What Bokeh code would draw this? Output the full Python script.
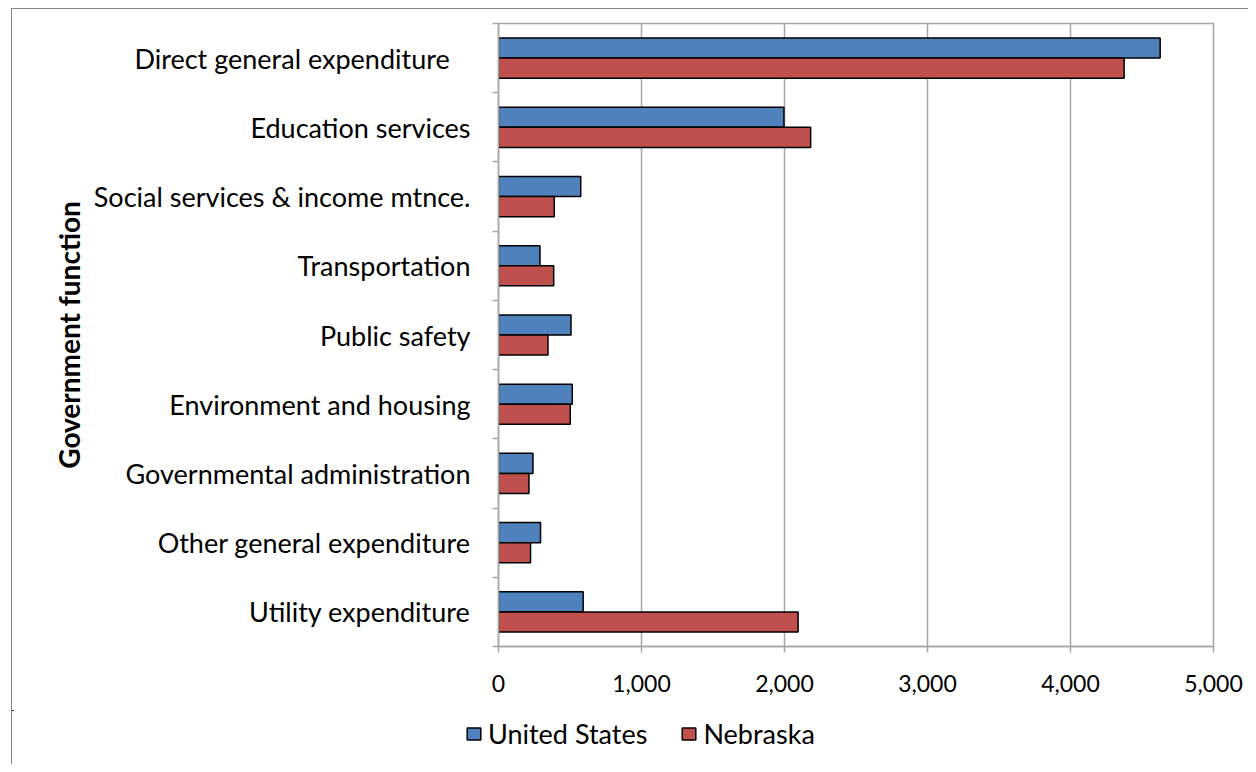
from bokeh.plotting import figure
from bokeh.layouts import column
from bokeh.models import (Range1d, FixedTicker, NumeralTickFormatter, Legend,
                          LegendItem, ColumnDataSource)
from bokeh.embed import file_html
from bokeh.resources import INLINE

categories = [
    "Direct general expenditure\u00a0\u00a0\u00a0",
    "Education services",
    "Social services & income mtnce.",
    "Transportation",
    "Public safety",
    "Environment and housing",
    "Governmental administration",
    "Other general expenditure",
    "Utility expenditure",
]
united_states = [4627, 1996, 575, 290, 507, 516, 241, 294, 592]
nebraska = [4375, 2183, 390, 386, 346, 502, 213, 224, 2095]
series_names = ["United States", "Nebraska"]
series_colors = ["#4F81BD", "#C0504D"]
x_ticks = [0, 1000, 2000, 3000, 4000, 5000]

FONT = "Lato"
GRAY = "#a6a6a6"
BAR_H = 0.29

n = len(categories)
centers = [i + 0.5 for i in range(n)]
src = ColumnDataSource(dict(
    y_us=[c - BAR_H / 2 for c in centers],
    y_ne=[c + BAR_H / 2 for c in centers],
    us=united_states, ne=nebraska,
))

p = figure(width=1236, height=701, output_backend="svg", toolbar_location=None,
           x_range=Range1d(0, 5000), y_range=Range1d(n, 0),
           min_border_left=486, min_border_right=35, min_border_top=14,
           min_border_bottom=64)
p.background_fill_color = "white"
p.border_fill_color = "white"
p.outline_line_color = GRAY
p.outline_line_width = 1.5

p.hbar(y="y_us", right="us", left=0, height=BAR_H, source=src,
       fill_color=series_colors[0], line_color="black", line_width=1.5)
p.hbar(y="y_ne", right="ne", left=0, height=BAR_H, source=src,
       fill_color=series_colors[1], line_color="black", line_width=1.5)

# x axis
xa = p.xaxis[0]
xa.ticker = FixedTicker(ticks=x_ticks)
xa.formatter = NumeralTickFormatter(format="0,0")
xa.axis_line_color = GRAY
xa.axis_line_width = 1.5
xa.major_tick_line_color = GRAY
xa.major_tick_line_width = 1.5
xa.major_tick_out = 6
xa.major_tick_in = 0
xa.minor_tick_line_color = None
xa.major_label_text_font = FONT
xa.major_label_text_font_size = "23px"
xa.major_label_text_color = "black"
xa.major_label_standoff = 22

# y axis
ya = p.yaxis[0]
ya.ticker = FixedTicker(ticks=centers, minor_ticks=list(range(n + 1)))
ya.major_label_overrides = {c: lab for c, lab in zip(centers, categories)}
ya.axis_line_color = GRAY
ya.axis_line_width = 1.5
ya.major_tick_line_color = None
ya.major_tick_out = 0
ya.major_tick_in = 0
ya.minor_tick_line_color = GRAY
ya.minor_tick_line_width = 1.5
ya.minor_tick_out = 6
ya.minor_tick_in = 0
ya.major_label_text_font = FONT
ya.major_label_text_font_size = "27px"
ya.major_label_text_color = "black"
ya.major_label_standoff = 22
ya.axis_label = "Government function"
ya.axis_label_text_font = FONT
ya.axis_label_text_font_size = "28px"
ya.axis_label_text_font_style = "bold"
ya.axis_label_text_color = "black"
ya.axis_label_standoff = 5

p.xgrid.grid_line_color = GRAY
p.xgrid.grid_line_width = 1.5
p.ygrid.grid_line_color = None

# legend strip below the chart (proxy renderers are zero-size, out of view)
pl = figure(width=1236, height=54, output_backend="svg", toolbar_location=None,
            x_range=Range1d(0, 5000), y_range=Range1d(-2, -1),
            min_border_left=0, min_border_right=0, min_border_top=0,
            min_border_bottom=0, frame_align=False)
pl.axis.visible = False
pl.grid.visible = False
pl.outline_line_color = None
pl.background_fill_color = "white"
pl.border_fill_color = "white"
items = []
for name, color, ycol in zip(series_names, series_colors, ["y_us", "y_ne"]):
    r = pl.hbar(y=ycol, right=0, left=0, height=0, source=src,
                fill_color=color, line_color="black", line_width=1.5)
    items.append(LegendItem(label=name, renderers=[r]))
legend = Legend(items=items, orientation="horizontal", location=(453, 14))
legend.border_line_color = None
legend.background_fill_alpha = 0
legend.label_text_font = FONT
legend.label_text_font_size = "27px"
legend.label_text_color = "black"
legend.glyph_width = 17
legend.glyph_height = 15
legend.label_height = 30
legend.label_standoff = 6
legend.spacing = 33
legend.padding = 0
legend.margin = 0
pl.add_layout(legend, "center")

layout = column(p, pl, spacing=0, margin=(8, 0, 0, 11),
                styles={"border-left": "1px solid #868686",
                        "border-top": "1px solid #868686"})
open("out.html", "w").write(file_html(layout, INLINE))
